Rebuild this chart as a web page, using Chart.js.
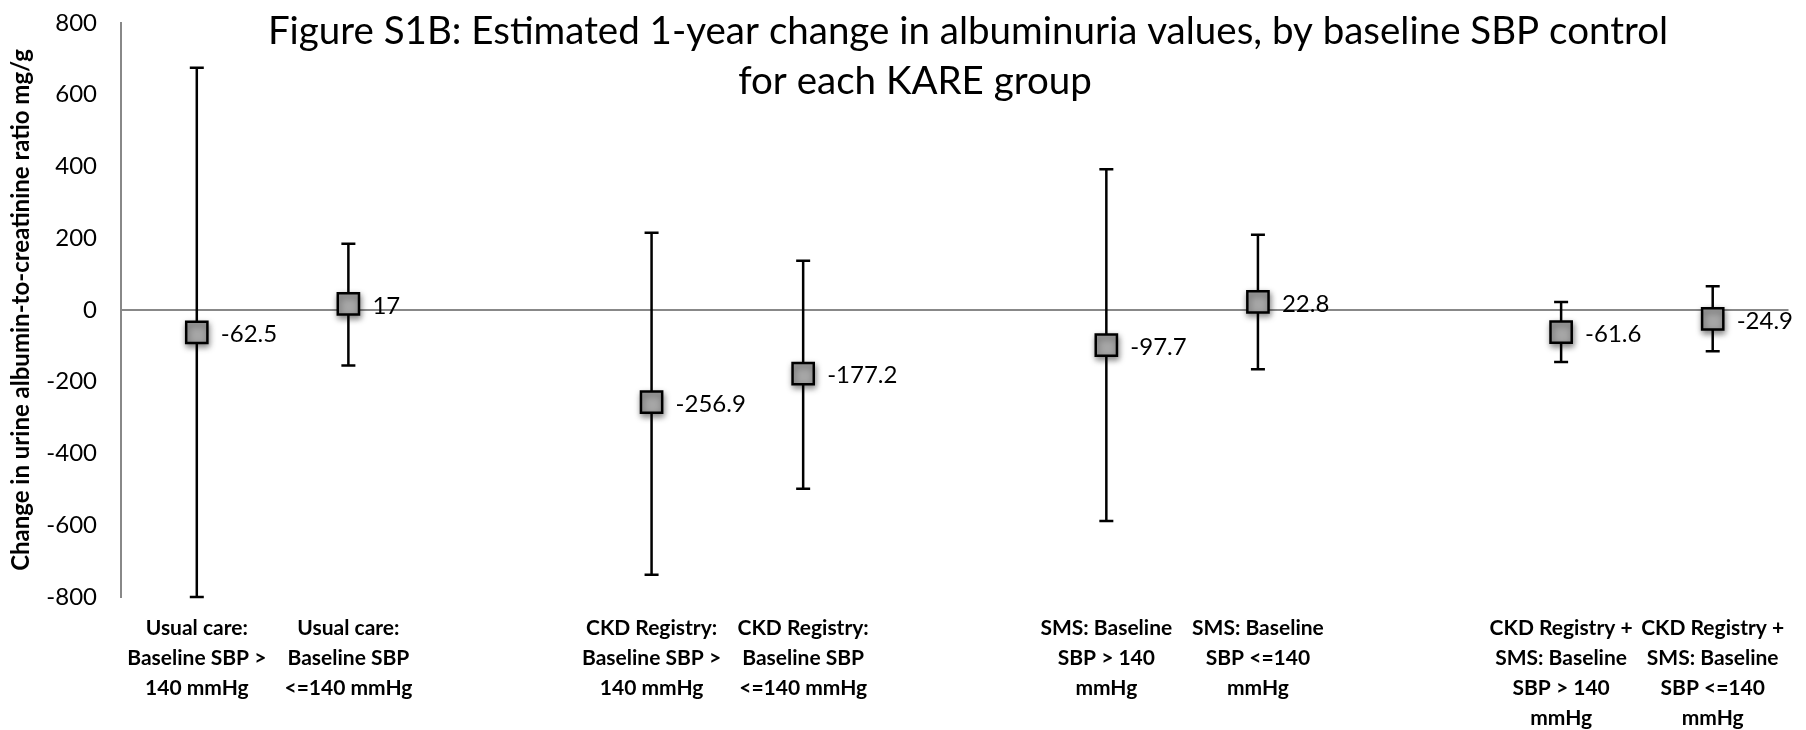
<!DOCTYPE html>
<html><head><meta charset="utf-8">
<script src="https://cdn.jsdelivr.net/npm/chart.js@4/dist/chart.umd.min.js"></script>
<style>html,body{margin:0;padding:0;background:#fff;}#wrap{width:1806px;height:730px;}</style>
</head><body><div id="wrap"><canvas id="c" width="1806" height="730"></canvas></div>
<script>
const categories = [
  ["Usual care:", "Baseline SBP >", "140 mmHg"],
  ["Usual care:", "Baseline SBP", "<=140 mmHg"],
  "",
  ["CKD Registry:", "Baseline SBP >", "140 mmHg"],
  ["CKD Registry:", "Baseline SBP", "<=140 mmHg"],
  "",
  ["SMS: Baseline", "SBP > 140", "mmHg"],
  ["SMS: Baseline", "SBP <=140", "mmHg"],
  "",
  ["CKD Registry +", "SMS: Baseline", "SBP > 140", "mmHg"],
  ["CKD Registry +", "SMS: Baseline", "SBP <=140", "mmHg"]
];
const estimates   = [-62.5, 17, null, -256.9, -177.2, null, -97.7, 22.8, null, -61.6, -24.9];
const upperLimits = [675, 185, null, 215, 137, null, 392, 210, null, 22, 66];
const lowerLimits = [-800, -155, null, -738, -498, null, -588, -165, null, -145, -115];
const yMin = -800, yMax = 800, yStep = 200;
const titleLines = ["Figure S1B: Estimated 1-year change in albuminuria values, by baseline SBP control", "for each KARE group"];
const yAxisTitle = "Change in urine albumin-to-creatinine ratio mg/g";

const FONT = "Lato, 'Open Sans', sans-serif";

const errorBars = {
  id: 'errorBars',
  beforeDatasetsDraw(chart) {
    const ctx = chart.ctx, x = chart.scales.x, y = chart.scales.y;
    ctx.save();
    ctx.strokeStyle = '#000';
    ctx.lineWidth = 2.5;
    estimates.forEach((v, i) => {
      if (v === null) return;
      const px = x.getPixelForValue(i);
      const yt = y.getPixelForValue(upperLimits[i]);
      const yb = y.getPixelForValue(lowerLimits[i]);
      ctx.beginPath();
      ctx.moveTo(px, yt); ctx.lineTo(px, yb);
      ctx.moveTo(px - 7, yt); ctx.lineTo(px + 7, yt);
      ctx.moveTo(px - 7, yb); ctx.lineTo(px + 7, yb);
      ctx.stroke();
    });
    ctx.restore();
  },
  beforeDatasetDraw(chart) {
    const ctx = chart.ctx;
    ctx.save();
    ctx.shadowColor = 'rgba(0,0,0,0.45)';
    ctx.shadowBlur = 6;
    ctx.shadowOffsetX = 1;
    ctx.shadowOffsetY = 3;
  },
  afterDatasetDraw(chart) {
    chart.ctx.restore();
  },
  afterDatasetsDraw(chart) {
    const ctx = chart.ctx, x = chart.scales.x, y = chart.scales.y;
    ctx.save();
    ctx.fillStyle = '#000';
    ctx.font = "24px " + FONT;
    ctx.textAlign = 'left';
    ctx.textBaseline = 'middle';
    estimates.forEach((v, i) => {
      if (v === null) return;
      ctx.fillText(String(v), x.getPixelForValue(i) + 24, y.getPixelForValue(v) + 2);
    });
    ctx.restore();
  },
  afterDraw(chart) {
    const ctx = chart.ctx;
    ctx.save();
    ctx.fillStyle = '#000';
    ctx.font = "38.5px " + FONT;
    ctx.textAlign = 'center';
    ctx.textBaseline = 'alphabetic';
    ctx.fillText(titleLines[0], 968, 44);
    ctx.fillText(titleLines[1], 915, 94);
    ctx.restore();
  }
};

new Chart(document.getElementById('c'), {
  type: 'line',
  data: {
    labels: categories,
    datasets: [{
      data: estimates,
      showLine: false,
      pointStyle: 'rect',
      pointRadius: 15,
      pointHoverRadius: 15,
      pointBackgroundColor: '#A6A6A6',
      pointBorderColor: '#000',
      pointBorderWidth: 2.5
    }]
  },
  options: {
    responsive: false,
    animation: false,
    events: [],
    layout: { padding: { left: 0, right: 0, top: 23, bottom: 0 } },
    plugins: { legend: { display: false }, title: { display: false }, tooltip: { enabled: false } },
    scales: {
      x: {
        offset: true,
        border: { display: false },
        grid: { display: false, drawTicks: false },
        ticks: {
          autoSkip: false, maxRotation: 0, minRotation: 0, padding: 16,
          color: '#000',
          font: { family: FONT, size: 21, weight: 'bold', lineHeight: 1.43 }
        },
        afterFit(s) { s.height = 133; s.paddingLeft = 0; s.paddingRight = 0; s.paddingTop = 0; s.paddingBottom = 0; }
      },
      y: {
        min: yMin, max: yMax,
        border: { display: true, color: '#888888', width: 2 },
        grid: {
          drawTicks: false,
          lineWidth: 2,
          color: c => c.tick.value === 0 ? '#888888' : 'rgba(0,0,0,0)'
        },
        ticks: {
          stepSize: yStep, padding: 24, color: '#000',
          font: { family: FONT, size: 24 }
        },
        title: {
          display: true, text: yAxisTitle, color: '#000',
          font: { family: FONT, size: 24, weight: 'bold' },
          padding: { top: 7, bottom: 0 }
        },
        afterFit(s) { s.width = 121; s.paddingTop = 0; s.paddingBottom = 0; s.paddingLeft = 0; s.paddingRight = 0; }
      }
    }
  },
  plugins: [errorBars]
});
</script>
</body></html>
